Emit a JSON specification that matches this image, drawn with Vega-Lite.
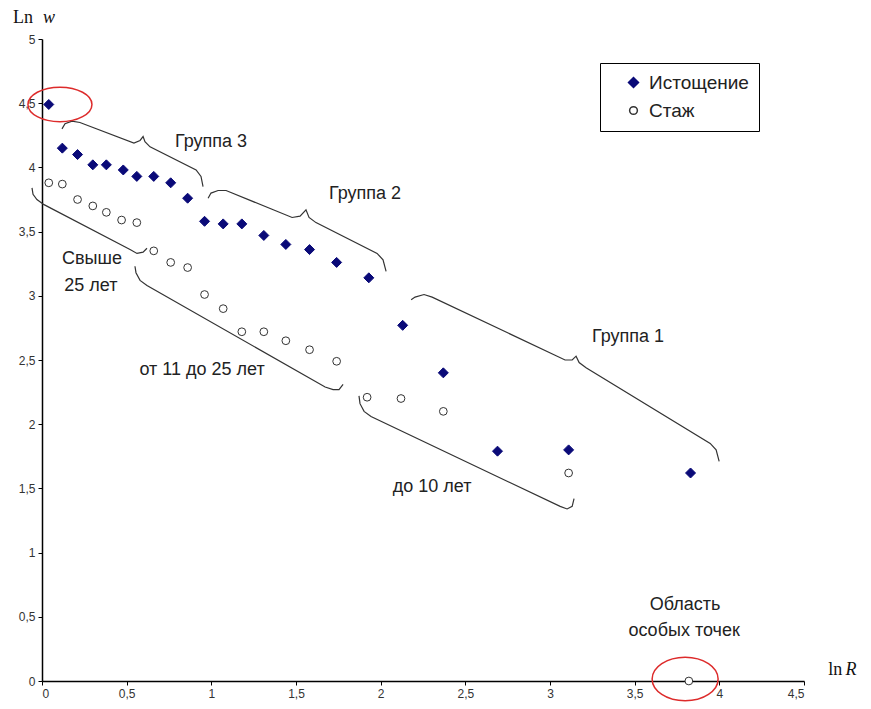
{
  "$schema": "https://vega.github.io/schema/vega-lite/v6.json",
  "width": 762,
  "height": 642,
  "autosize": {"type": "none"},
  "padding": {"left": 42, "top": 39, "right": 67, "bottom": 28},
  "background": "white",
  "config": {
    "view": {"stroke": null},
    "axis": {
      "grid": false,
      "domainColor": "#000000",
      "domainWidth": 1.5,
      "tickColor": "#000000",
      "tickWidth": 1,
      "tickSize": 4,
      "labelFont": "Liberation Sans",
      "labelFontSize": 12,
      "labelColor": "#333333",
      "labelPadding": 3,
      "title": null
    },
    "legend": {
      "orient": "none",
      "legendX": 558,
      "legendY": 24,
      "strokeColor": "#000000",
      "strokeWidth": 1,
      "padding": 10,
      "labelFont": "Liberation Sans",
      "labelFontSize": 19,
      "labelColor": "#222222",
      "rowPadding": 8,
      "symbolOffset": 14,
      "labelOffset": 6,
      "fillColor": "white"
    }
  },
  "datasets": {
    "points": [
      {"series": "Истощение", "x": 0.04, "y": 4.49},
      {"series": "Истощение", "x": 0.12, "y": 4.15},
      {"series": "Истощение", "x": 0.21, "y": 4.10},
      {"series": "Истощение", "x": 0.30, "y": 4.02},
      {"series": "Истощение", "x": 0.38, "y": 4.02},
      {"series": "Истощение", "x": 0.48, "y": 3.98},
      {"series": "Истощение", "x": 0.56, "y": 3.93},
      {"series": "Истощение", "x": 0.66, "y": 3.93},
      {"series": "Истощение", "x": 0.76, "y": 3.88},
      {"series": "Истощение", "x": 0.86, "y": 3.76},
      {"series": "Истощение", "x": 0.96, "y": 3.58},
      {"series": "Истощение", "x": 1.07, "y": 3.56},
      {"series": "Истощение", "x": 1.18, "y": 3.56},
      {"series": "Истощение", "x": 1.31, "y": 3.47},
      {"series": "Истощение", "x": 1.44, "y": 3.40},
      {"series": "Истощение", "x": 1.58, "y": 3.36},
      {"series": "Истощение", "x": 1.74, "y": 3.26},
      {"series": "Истощение", "x": 1.93, "y": 3.14},
      {"series": "Истощение", "x": 2.13, "y": 2.77},
      {"series": "Истощение", "x": 2.37, "y": 2.40},
      {"series": "Истощение", "x": 2.69, "y": 1.79},
      {"series": "Истощение", "x": 3.11, "y": 1.80},
      {"series": "Истощение", "x": 3.83, "y": 1.62},
      {"series": "Стаж", "x": 0.04, "y": 3.88},
      {"series": "Стаж", "x": 0.12, "y": 3.87},
      {"series": "Стаж", "x": 0.21, "y": 3.75},
      {"series": "Стаж", "x": 0.30, "y": 3.70},
      {"series": "Стаж", "x": 0.38, "y": 3.65},
      {"series": "Стаж", "x": 0.47, "y": 3.59},
      {"series": "Стаж", "x": 0.56, "y": 3.57},
      {"series": "Стаж", "x": 0.66, "y": 3.35},
      {"series": "Стаж", "x": 0.76, "y": 3.26},
      {"series": "Стаж", "x": 0.86, "y": 3.22},
      {"series": "Стаж", "x": 0.96, "y": 3.01},
      {"series": "Стаж", "x": 1.07, "y": 2.90},
      {"series": "Стаж", "x": 1.18, "y": 2.72},
      {"series": "Стаж", "x": 1.31, "y": 2.72},
      {"series": "Стаж", "x": 1.44, "y": 2.65},
      {"series": "Стаж", "x": 1.58, "y": 2.58},
      {"series": "Стаж", "x": 1.74, "y": 2.49},
      {"series": "Стаж", "x": 1.92, "y": 2.21},
      {"series": "Стаж", "x": 2.12, "y": 2.20},
      {"series": "Стаж", "x": 2.37, "y": 2.10},
      {"series": "Стаж", "x": 3.11, "y": 1.62},
      {"series": "Стаж", "x": 3.82, "y": 0.00}
    ],
    "braces": [
      {"b": "g3", "i": 1, "x": 0.118, "y": 4.30},
      {"b": "g3", "i": 2, "x": 0.136, "y": 4.34},
      {"b": "g3", "i": 3, "x": 0.177, "y": 4.36},
      {"b": "g3", "i": 4, "x": 0.224, "y": 4.35},
      {"b": "g3", "i": 5, "x": 0.543, "y": 4.19},
      {"b": "g3", "i": 6, "x": 0.579, "y": 4.21},
      {"b": "g3", "i": 7, "x": 0.597, "y": 4.24},
      {"b": "g3", "i": 8, "x": 0.608, "y": 4.20},
      {"b": "g3", "i": 9, "x": 0.638, "y": 4.16},
      {"b": "g3", "i": 10, "x": 0.910, "y": 3.98},
      {"b": "g3", "i": 11, "x": 0.939, "y": 3.93},
      {"b": "g3", "i": 12, "x": 0.951, "y": 3.85},
      {"b": "g2", "i": 1, "x": 0.981, "y": 3.76},
      {"b": "g2", "i": 2, "x": 0.998, "y": 3.80},
      {"b": "g2", "i": 3, "x": 1.040, "y": 3.82},
      {"b": "g2", "i": 4, "x": 1.087, "y": 3.82},
      {"b": "g2", "i": 5, "x": 1.477, "y": 3.61},
      {"b": "g2", "i": 6, "x": 1.524, "y": 3.62},
      {"b": "g2", "i": 7, "x": 1.559, "y": 3.67},
      {"b": "g2", "i": 8, "x": 1.577, "y": 3.61},
      {"b": "g2", "i": 9, "x": 1.618, "y": 3.57},
      {"b": "g2", "i": 10, "x": 1.979, "y": 3.33},
      {"b": "g2", "i": 11, "x": 2.014, "y": 3.28},
      {"b": "g2", "i": 12, "x": 2.032, "y": 3.19},
      {"b": "g1", "i": 1, "x": 2.180, "y": 2.97},
      {"b": "g1", "i": 2, "x": 2.203, "y": 2.99},
      {"b": "g1", "i": 3, "x": 2.256, "y": 3.01},
      {"b": "g1", "i": 4, "x": 2.304, "y": 2.99},
      {"b": "g1", "i": 5, "x": 3.089, "y": 2.50},
      {"b": "g1", "i": 6, "x": 3.131, "y": 2.50},
      {"b": "g1", "i": 7, "x": 3.154, "y": 2.53},
      {"b": "g1", "i": 8, "x": 3.172, "y": 2.48},
      {"b": "g1", "i": 9, "x": 3.213, "y": 2.44},
      {"b": "g1", "i": 10, "x": 3.946, "y": 1.85},
      {"b": "g1", "i": 11, "x": 3.981, "y": 1.80},
      {"b": "g1", "i": 12, "x": 3.999, "y": 1.71},
      {"b": "s25", "i": 1, "x": -0.059, "y": 3.84},
      {"b": "s25", "i": 2, "x": -0.053, "y": 3.79},
      {"b": "s25", "i": 3, "x": -0.030, "y": 3.75},
      {"b": "s25", "i": 4, "x": 0.012, "y": 3.71},
      {"b": "s25", "i": 5, "x": 0.520, "y": 3.36},
      {"b": "s25", "i": 6, "x": 0.561, "y": 3.33},
      {"b": "s25", "i": 7, "x": 0.597, "y": 3.34},
      {"b": "s25", "i": 8, "x": 0.620, "y": 3.37},
      {"b": "s11", "i": 1, "x": 0.549, "y": 3.23},
      {"b": "s11", "i": 2, "x": 0.555, "y": 3.18},
      {"b": "s11", "i": 3, "x": 0.579, "y": 3.12},
      {"b": "s11", "i": 4, "x": 0.620, "y": 3.08},
      {"b": "s11", "i": 5, "x": 1.672, "y": 2.29},
      {"b": "s11", "i": 6, "x": 1.719, "y": 2.27},
      {"b": "s11", "i": 7, "x": 1.754, "y": 2.27},
      {"b": "s11", "i": 8, "x": 1.778, "y": 2.31},
      {"b": "s10", "i": 1, "x": 1.872, "y": 2.22},
      {"b": "s10", "i": 2, "x": 1.878, "y": 2.16},
      {"b": "s10", "i": 3, "x": 1.902, "y": 2.10},
      {"b": "s10", "i": 4, "x": 1.943, "y": 2.06},
      {"b": "s10", "i": 5, "x": 3.060, "y": 1.36},
      {"b": "s10", "i": 6, "x": 3.101, "y": 1.34},
      {"b": "s10", "i": 7, "x": 3.131, "y": 1.36},
      {"b": "s10", "i": 8, "x": 3.142, "y": 1.42}
    ],
    "sansLabels": [
      {"t": "Группа 3", "x": 0.998, "y": 4.20},
      {"t": "Группа 2", "x": 1.908, "y": 3.79},
      {"t": "Группа 1", "x": 3.461, "y": 2.68},
      {"t": "Свыше", "x": 0.295, "y": 3.29},
      {"t": "25 лет", "x": 0.289, "y": 3.08},
      {"t": "от 11 до 25 лет", "x": 0.945, "y": 2.42},
      {"t": "до 10 лет", "x": 2.304, "y": 1.51},
      {"t": "Область", "x": 3.798, "y": 0.59},
      {"t": "особых точек", "x": 3.792, "y": 0.39}
    ],
    "serifUpright": [
      {"t": "Ln", "x": -0.171, "y": 5.125},
      {"t": "ln", "x": 4.643, "y": 0.047}
    ],
    "serifItalic": [
      {"t": "w", "x": 0.006, "y": 5.125},
      {"t": "R", "x": 4.745, "y": 0.047}
    ],
    "ellipseTop": [{"x": 0.106, "y": 4.49}],
    "ellipseBottom": [{"x": 3.798, "y": 0.016}]
  },
  "encoding": {
    "x": {
      "field": "x",
      "type": "quantitative",
      "scale": {"domain": [0, 4.5], "nice": false, "zero": false},
      "axis": {
        "orient": "bottom",
        "values": [0, 0.5, 1, 1.5, 2, 2.5, 3, 3.5, 4, 4.5],
        "labelExpr": "replace(format(datum.value, '~g'), '.', ',')"
      }
    },
    "y": {
      "field": "y",
      "type": "quantitative",
      "scale": {"domain": [0, 5], "nice": false, "zero": false},
      "axis": {
        "orient": "left",
        "values": [0, 0.5, 1, 1.5, 2, 2.5, 3, 3.5, 4, 4.5, 5],
        "labelExpr": "replace(format(datum.value, '~g'), '.', ',')"
      }
    }
  },
  "layer": [
    {
      "data": {"name": "braces"},
      "mark": {"type": "line", "color": "#333333", "strokeWidth": 1.2, "clip": false},
      "encoding": {
        "detail": {"field": "b", "type": "nominal"},
        "order": {"field": "i", "type": "quantitative"}
      }
    },
    {
      "data": {"name": "ellipseTop"},
      "mark": {
        "type": "point",
        "shape": "M-1,0A1,0.54,0,1,0,1,0A1,0.54,0,1,0,-1,0Z",
        "size": 4096,
        "filled": false,
        "stroke": "#dd2b2b",
        "strokeWidth": 1.5,
        "opacity": 1,
        "clip": false
      },
      "encoding": {}
    },
    {
      "data": {"name": "ellipseBottom"},
      "mark": {
        "type": "point",
        "shape": "M-1,0A1,0.66,0,1,0,1,0A1,0.66,0,1,0,-1,0Z",
        "size": 4356,
        "filled": false,
        "stroke": "#dd2b2b",
        "strokeWidth": 1.5,
        "opacity": 1,
        "clip": false
      },
      "encoding": {}
    },
    {
      "data": {"name": "points"},
      "mark": {"type": "point", "strokeWidth": 1, "opacity": 1, "clip": false},
      "encoding": {
        "shape": {
          "field": "series", "type": "nominal", "title": null,
          "scale": {"domain": ["Истощение", "Стаж"], "range": ["diamond", "circle"]}
        },
        "fill": {
          "field": "series", "type": "nominal", "title": null,
          "scale": {"domain": ["Истощение", "Стаж"], "range": ["#0a0a78", "#ffffff"]}
        },
        "stroke": {
          "field": "series", "type": "nominal", "title": null,
          "scale": {"domain": ["Истощение", "Стаж"], "range": ["#0a0a78", "#333333"]}
        },
        "size": {
          "field": "series", "type": "nominal", "title": null,
          "scale": {"domain": ["Истощение", "Стаж"], "range": [100, 60]}
        }
      }
    },
    {
      "data": {"name": "sansLabels"},
      "mark": {
        "type": "text",
        "font": "Liberation Sans",
        "fontSize": 18,
        "color": "#222222",
        "align": "center",
        "baseline": "middle",
        "clip": false
      },
      "encoding": {"text": {"field": "t", "type": "nominal"}}
    },
    {
      "data": {"name": "serifUpright"},
      "mark": {
        "type": "text",
        "font": "Liberation Serif",
        "fontSize": 18,
        "color": "#111111",
        "align": "left",
        "baseline": "alphabetic",
        "clip": false
      },
      "encoding": {"text": {"field": "t", "type": "nominal"}}
    },
    {
      "data": {"name": "serifItalic"},
      "mark": {
        "type": "text",
        "font": "Liberation Serif",
        "fontSize": 18,
        "fontStyle": "italic",
        "color": "#111111",
        "align": "left",
        "baseline": "alphabetic",
        "clip": false
      },
      "encoding": {"text": {"field": "t", "type": "nominal"}}
    }
  ]
}
